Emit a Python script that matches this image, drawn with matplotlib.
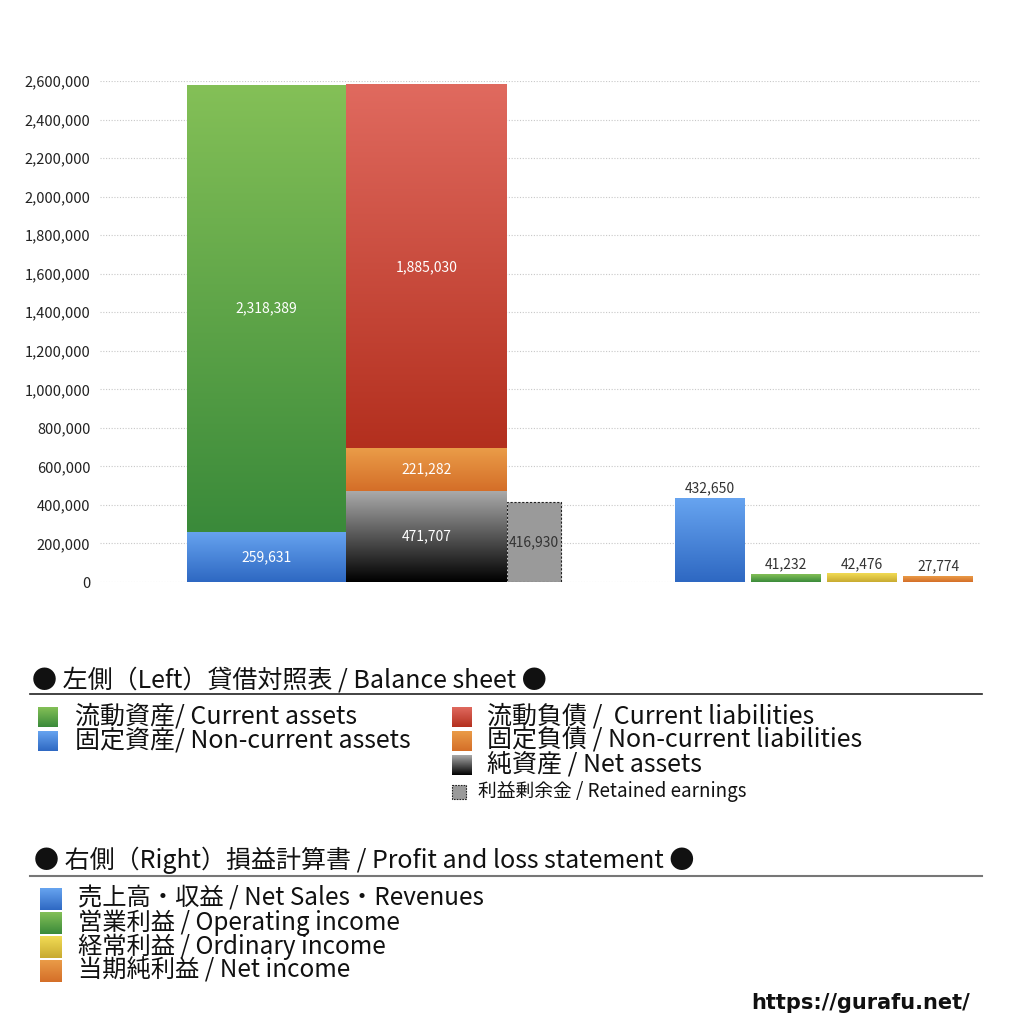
import numpy as np
import matplotlib
matplotlib.use("Agg")
import matplotlib.pyplot as plt
from matplotlib.colors import LinearSegmentedColormap
from matplotlib.patches import Rectangle
from matplotlib.ticker import FuncFormatter

plt.rcParams['font.family'] = ['Noto Sans CJK JP', 'DejaVu Sans']

# balance sheet (left)
assets_labels = ['固定資産', '流動資産']
assets_values = [259631, 2318389]
liab_labels = ['純資産', '固定負債', '流動負債']
liab_values = [471707, 221282, 1885030]
retained_earnings = 416930

# profit and loss (right)
pl_labels = ['売上高・収益', '営業利益', '経常利益', '当期純利益']
pl_values = [432650, 41232, 42476, 27774]

# gradients (top colour, bottom colour)
GREEN = ('#84c057', '#3a8a3a')
BLUE = ('#67a4f0', '#2e68c2')
RED = ('#e06a5f', '#b32f1e')
ORANGE = ('#ea9c48', '#d46e28')
BLACK = ('#aaaaaa', '#000000')
YELLOW = ('#f2dc55', '#c8aa30')
GRAY = '#9a9a9a'


def grad(ax, x0, x1, y0, y1, cols, z=2):
    cmap = LinearSegmentedColormap.from_list('g', [cols[1], cols[0]])
    g = np.linspace(0, 1, 256).reshape(-1, 1)
    ax.imshow(g, cmap=cmap, extent=[x0, x1, y0, y1], origin='lower',
              aspect='auto', zorder=z, interpolation='bicubic')


fig = plt.figure(figsize=(10.24, 10.24), dpi=100)
ax = fig.add_axes([100 / 1024, 1 - 582 / 1024, 880 / 1024, 501 / 1024])

# left group
asset_x = (8.7, 24.6)
liab_x = (24.6, 40.7)
ret_x = (40.7, 46.1)
bottom = 0
for v, c in zip(assets_values, [BLUE, GREEN]):
    grad(ax, asset_x[0], asset_x[1], bottom, bottom + v, c)
    ax.text(sum(asset_x) / 2, bottom + v / 2, f'{v:,}', color='white',
            ha='center', va='center', fontsize=10, zorder=5)
    bottom += v
bottom = 0
for v, c in zip(liab_values, [BLACK, ORANGE, RED]):
    grad(ax, liab_x[0], liab_x[1], bottom, bottom + v, c)
    ax.text(sum(liab_x) / 2, bottom + v / 2, f'{v:,}', color='white',
            ha='center', va='center', fontsize=10, zorder=5)
    bottom += v
ax.bar(sum(ret_x) / 2, retained_earnings, width=ret_x[1] - ret_x[0],
       color=GRAY, edgecolor='#222222', linestyle=(0, (2, 1.5)),
       linewidth=0.8, zorder=3)
ax.text(sum(ret_x) / 2, retained_earnings / 2, f'{retained_earnings:,}',
        color='#333333', ha='center', va='center', fontsize=10, zorder=5)

# right group
pl_x = [57.5, 65.1, 72.7, 80.3]
pl_w = 7.0
pl_cols = [BLUE, GREEN, YELLOW, ORANGE]
for x, v, c in zip(pl_x, pl_values, pl_cols):
    grad(ax, x, x + pl_w, 0, v, c)
    ax.text(x + pl_w / 2, v + 15000, f'{v:,}', color='#333333',
            ha='center', va='bottom', fontsize=10, zorder=5)

ax.set_xlim(0, 88)
ax.set_ylim(0, 2600000)
ax.set_yticks(np.arange(0, 2600001, 200000))
ax.yaxis.set_major_formatter(FuncFormatter(lambda v, p: f'{int(v):,}'))
ax.tick_params(axis='y', length=0, labelsize=10.5, labelcolor='#222222', pad=7)
ax.set_xticks([])
ax.grid(axis='y', color='#c8c8c8', linestyle=(0, (1, 1.5)), linewidth=0.8)
ax.set_axisbelow(True)
for s in ax.spines.values():
    s.set_visible(False)

# legend area in pixel coords
lax = fig.add_axes([0, 0, 1, 1])
lax.set_xlim(0, 1024)
lax.set_ylim(1024, 0)
lax.axis('off')

lax.text(32, 680, '● 左側（Left）貸借対照表 / Balance sheet ●', fontsize=18,
         va='center', ha='left', color='#111111')
lax.plot([30, 982], [694, 694], color='#222222', lw=1.2)

left_items = [('流動資産/ Current assets', GREEN, 717),
              ('固定資産/ Non-current assets', BLUE, 741)]
right_items = [('流動負債 /  Current liabilities', RED, 717),
               ('固定負債 / Non-current liabilities', ORANGE, 741),
               ('純資産 / Net assets', BLACK, 765)]
for txt, c, y in left_items:
    grad(lax, 38, 58, y + 10, y - 10, c)
    lax.text(75, y, txt, fontsize=18, va='center', color='#111111')
for txt, c, y in right_items:
    grad(lax, 452, 472, y + 10, y - 10, c)
    lax.text(487, y, txt, fontsize=18, va='center', color='#111111')
lax.add_patch(Rectangle((452, 785), 14, 14, facecolor=GRAY, edgecolor='#222222',
                        linestyle=(0, (1.5, 1)), linewidth=0.8))
lax.text(478, 792, '利益剰余金 / Retained earnings', fontsize=13.5,
         va='center', color='#111111')

lax.text(34, 860, '● 右側（Right）損益計算書 / Profit and loss statement ●',
         fontsize=18, va='center', color='#111111')
lax.plot([30, 982], [876, 876], color='#777777', lw=1.5)

pl_items = ['売上高・収益 / Net Sales・Revenues', '営業利益 / Operating income',
            '経常利益 / Ordinary income', '当期純利益 / Net income']
for i, (txt, c) in enumerate(zip(pl_items, pl_cols)):
    y = 899 + 24 * i
    grad(lax, 40, 62, y + 11, y - 11, c)
    lax.text(78, y, txt, fontsize=17.5, va='center', color='#111111')

lax.text(970, 1003, 'https://gurafu.net/', fontsize=15, fontweight='bold',
         ha='right', va='center', color='#111111', family='DejaVu Sans')

lax.set_xlim(0, 1024)
lax.set_ylim(1024, 0)

fig.savefig('out.png', dpi=100)
